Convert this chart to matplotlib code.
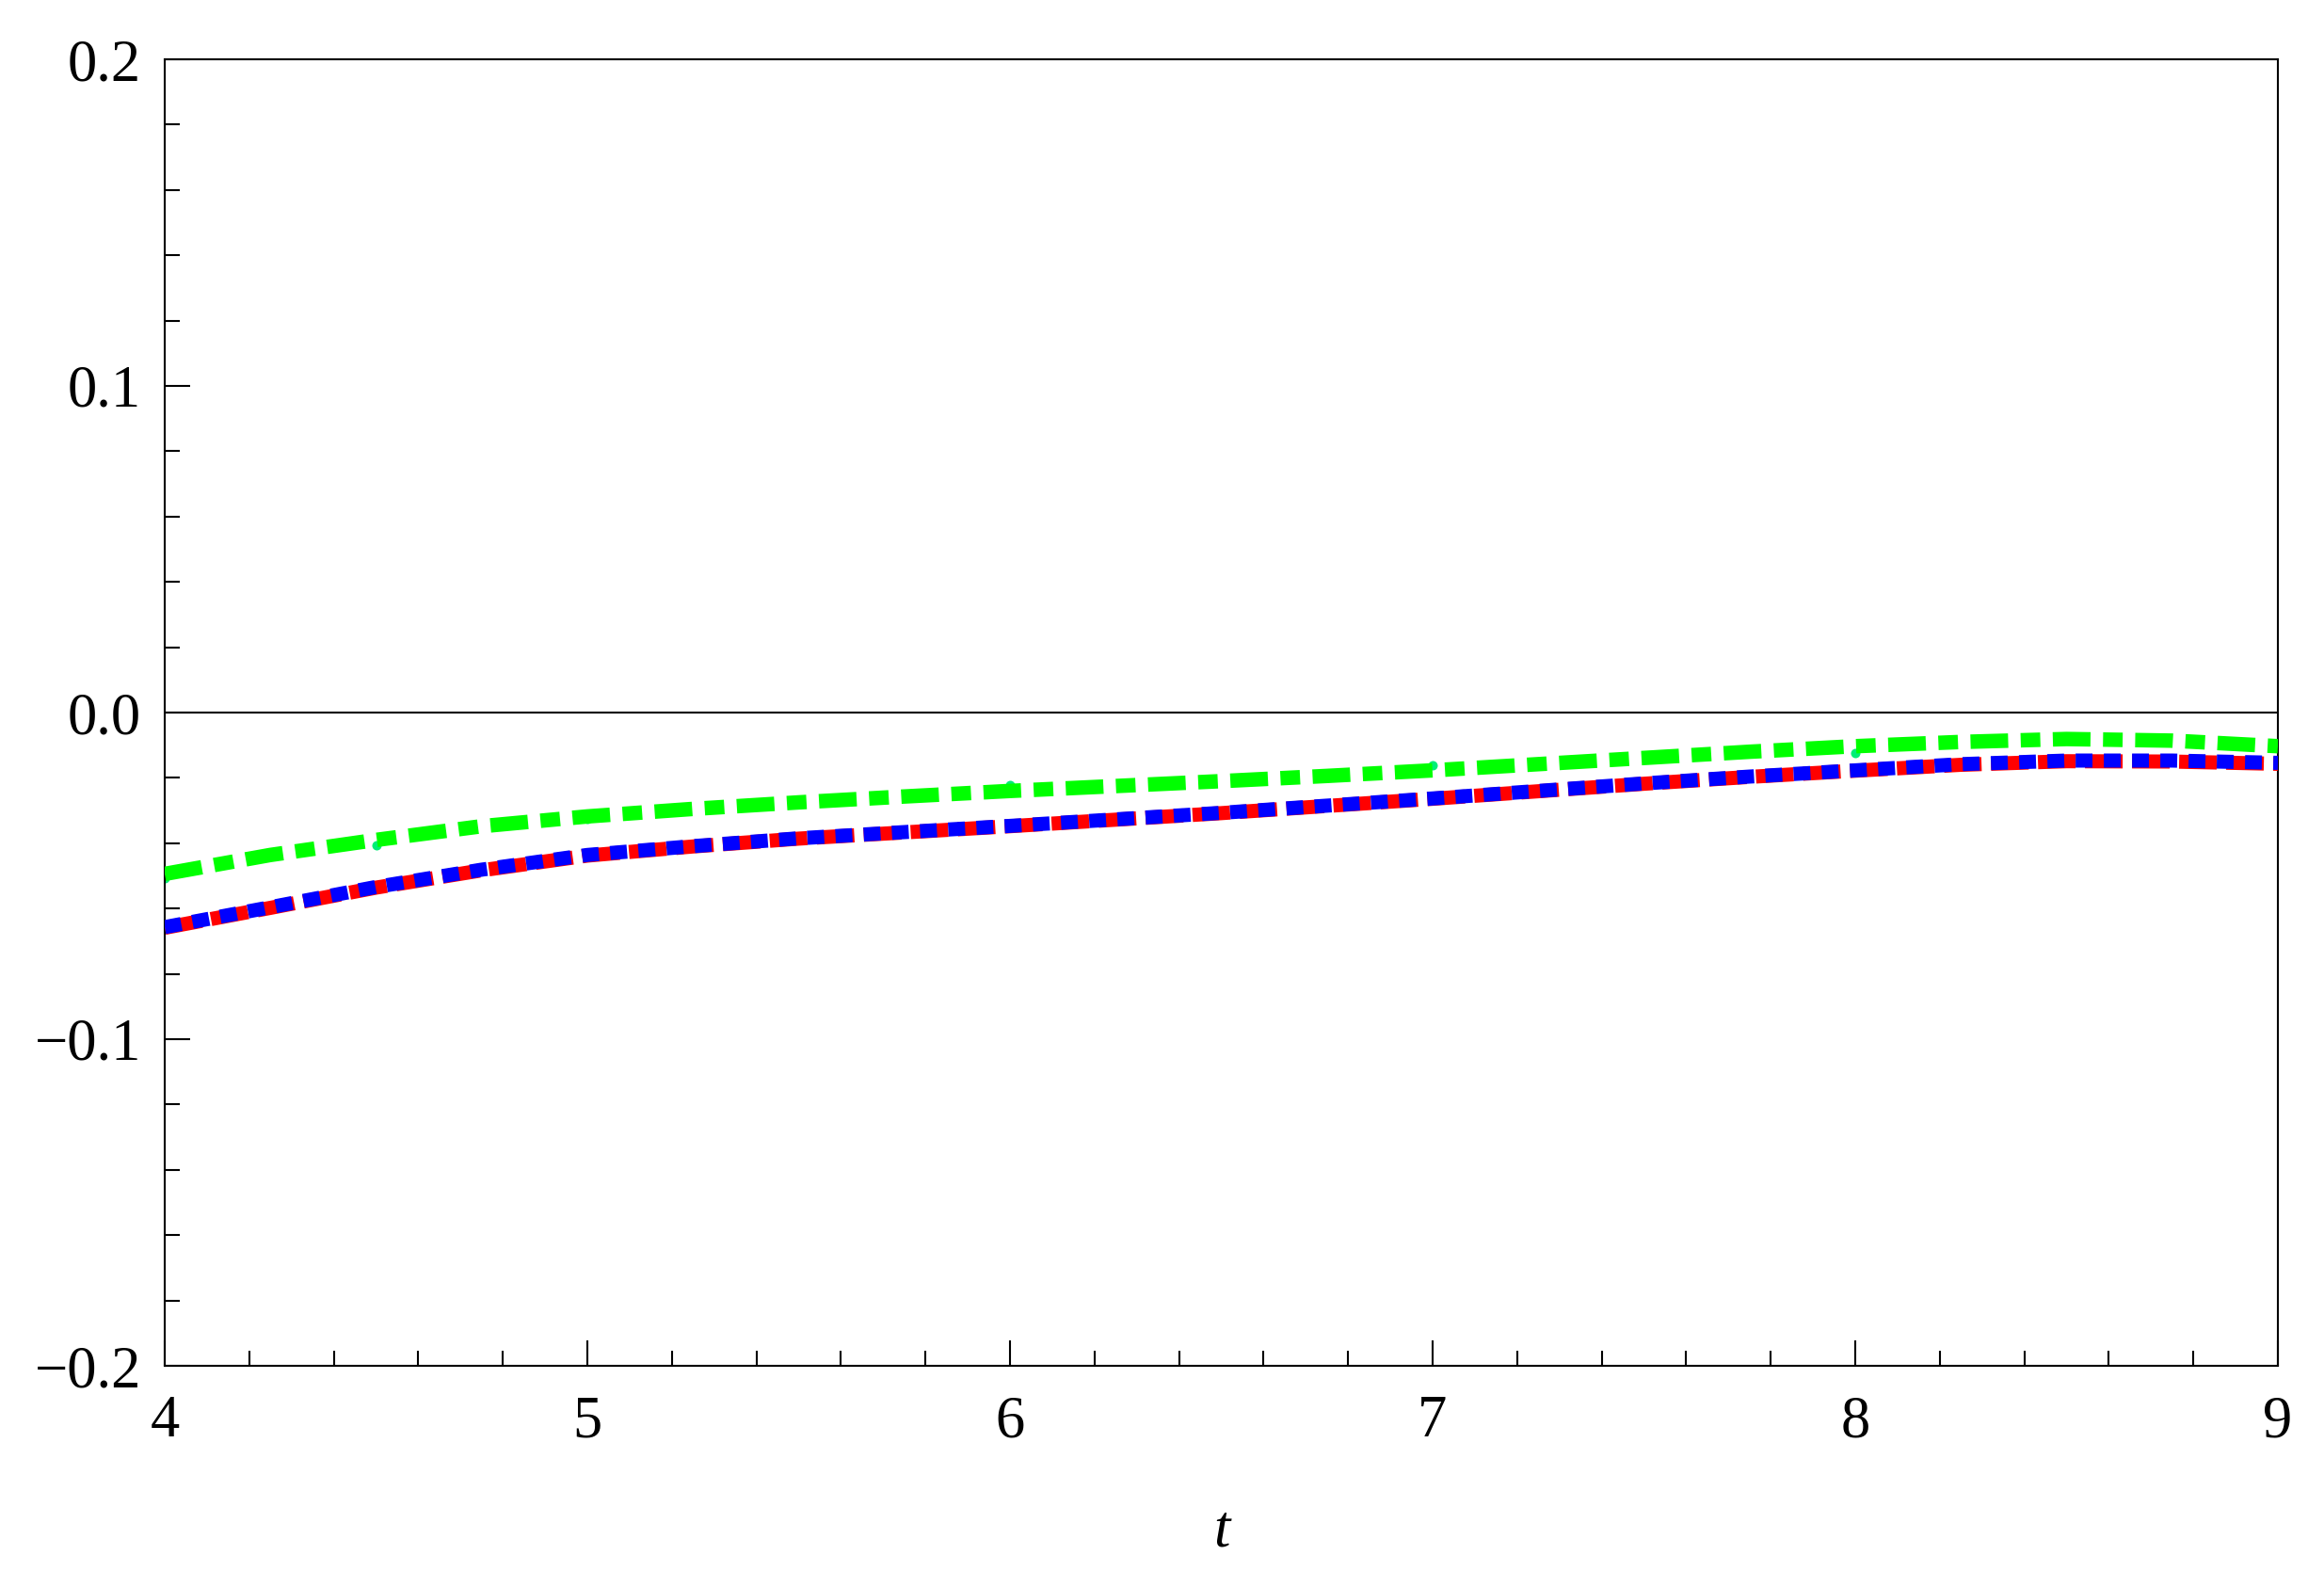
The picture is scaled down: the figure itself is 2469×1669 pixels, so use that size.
import numpy as np
import matplotlib.pyplot as plt
from matplotlib.ticker import MultipleLocator

# values
t = [4.0, 4.25, 4.5, 4.75, 5.0, 5.25, 5.5, 5.75, 6.0, 6.25, 6.5, 6.75,
     7.0, 7.25, 7.5, 7.75, 8.0, 8.25, 8.5, 8.75, 9.0]
green = [-0.0494, -0.0436, -0.0390, -0.0348, -0.0318, -0.0295, -0.0275,
         -0.0257, -0.0240, -0.0225, -0.0210, -0.0194, -0.0177, -0.0158,
         -0.0139, -0.0120, -0.0103, -0.0090, -0.0081, -0.0086, -0.0103]
red = [-0.0659, -0.0598, -0.0536, -0.0483, -0.0438, -0.0410, -0.0386,
       -0.0367, -0.0348, -0.0328, -0.0308, -0.0286, -0.0264, -0.0241,
       -0.0218, -0.0197, -0.0178, -0.0160, -0.0149, -0.0150, -0.0157]
blue = [-0.0657, -0.0596, -0.0534, -0.0481, -0.0436, -0.0409, -0.0385,
        -0.0366, -0.0347, -0.0327, -0.0307, -0.0285, -0.0263, -0.0240,
        -0.0217, -0.0196, -0.0177, -0.0158, -0.0147, -0.0147, -0.0154]
t_pts = [4.0, 4.5, 5.0, 5.5, 6.0, 7.0, 8.0]
green_pts = [-0.0508, -0.0405, -0.0326, -0.0270, -0.0222, -0.0160, -0.0124]

plt.rcParams.update({'font.family': 'Liberation Serif', 'font.size': 15,
                     'lines.scale_dashes': False, 'axes.linewidth': 0.5})

fig = plt.figure(figsize=(2469/300, 1669/300), dpi=300)
ax = fig.add_axes([175/2469, 1-1451/1669, (2420-175)/2469, (1451-63)/1669])

ax.axhline(0, color='black', lw=0.5, zorder=1)
ax.plot(t_pts, green_pts, 'o', color='#00ee77', ms=2.4, mew=0, zorder=2)
ax.plot(t, green, color='#00ff00', lw=3.7, dashes=(9.6, 3.2, 5.0, 3.2),
        dash_capstyle='butt', dash_joinstyle='round', zorder=3)
ax.plot(t, red, color='#ff0000', lw=3.6, dashes=(9.6, 2.4),
        dash_capstyle='butt', dash_joinstyle='round', zorder=3)
ax.plot(t, blue, color='#0000ff', lw=3.6, dashes=(4.3, 2.9),
        dash_capstyle='butt', dash_joinstyle='round', zorder=4)

ax.set_xlim(4, 9)
ax.set_ylim(-0.2, 0.2)
ax.xaxis.set_major_locator(MultipleLocator(1))
ax.xaxis.set_minor_locator(MultipleLocator(0.2))
ax.yaxis.set_major_locator(MultipleLocator(0.1))
ax.yaxis.set_minor_locator(MultipleLocator(0.02))
ax.yaxis.set_major_formatter(plt.FuncFormatter(lambda v, p: f'{v:.1f}'.replace('-', '\u2212')))
ax.tick_params(which='both', direction='in', top=False, right=False, width=0.5)
ax.tick_params(which='major', length=6.5)
ax.tick_params(which='minor', length=3.8)
ax.tick_params(axis='y', pad=6)
ax.tick_params(axis='x', pad=7.5)
ax.set_xlabel('t', style='italic', fontsize=15, labelpad=14)

plt.savefig('out.png', dpi=300)
